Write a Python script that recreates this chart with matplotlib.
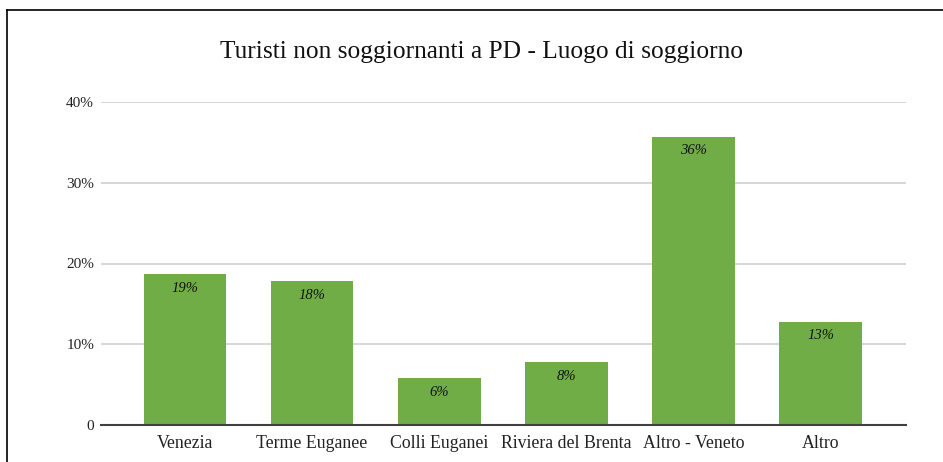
import matplotlib
matplotlib.use("Agg")
import matplotlib.pyplot as plt
from matplotlib.lines import Line2D

categories = ["Venezia", "Terme Euganee", "Colli Euganei", "Riviera del Brenta", "Altro - Veneto", "Altro"]
values = [18.7, 17.8, 5.8, 7.8, 35.7, 12.8]
value_labels = ["19%", "18%", "6%", "8%", "36%", "13%"]
yticks = [0, 10, 20, 30, 40]
ytick_labels = ["0", "10%", "20%", "30%", "40%"]
title = "Turisti non soggiornanti a PD - Luogo di soggiorno"

plt.rcParams['font.family'] = ['Liberation Serif', 'DejaVu Serif']

fig = plt.figure(figsize=(9.43, 4.62), dpi=100)
W, H = 943, 462
ax = fig.add_axes([101 / W, 1 - 425 / H, (906 - 101) / W, (425 - 102) / H])

x = list(range(len(categories)))
bars = ax.bar(x, values, width=0.65, color="#70AD47", zorder=3)
for xi, v, lab in zip(x, values, value_labels):
    ax.text(xi, v - 0.95, lab, ha="center", va="top", fontsize=10.5, style="italic", color="#111111", zorder=4)

ax.set_xlim(-0.66, 5.67)
ax.set_ylim(0, 40)
ax.set_yticks(yticks)
ax.set_yticklabels(ytick_labels, fontsize=11)
ax.set_xticks(x)
ax.set_xticklabels(categories, fontsize=12.8)
ax.tick_params(axis="both", length=0, colors="#222222")
ax.tick_params(axis="y", pad=5)
ax.tick_params(axis="x", pad=7)
ax.grid(axis="y", color="#d0d0d0", linewidth=1.2, zorder=0)
ax.set_axisbelow(True)
for s in ["top", "right", "left"]:
    ax.spines[s].set_visible(False)
ax.spines["bottom"].set_color("#404040")
ax.spines["bottom"].set_linewidth(1.5)
ax.spines["bottom"].set_zorder(5)

fig.text(481 / W, 1 - 52 / H, title, ha="center", va="center", fontsize=18.3, color="#111111")

# outer frame (left and top edges)
fig.add_artist(Line2D([7 / W, 7 / W], [0, 1 - 10 / H], color="black", linewidth=1.2, transform=fig.transFigure))
fig.add_artist(Line2D([7 / W, 1], [1 - 10 / H, 1 - 10 / H], color="black", linewidth=1.2, transform=fig.transFigure))

fig.savefig("out.png", dpi=100)
